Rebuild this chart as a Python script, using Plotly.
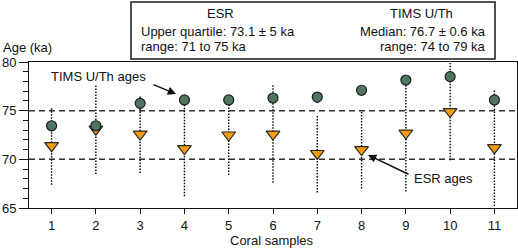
import plotly.graph_objects as go

samples = [1, 2, 3, 4, 5, 6, 7, 8, 9, 10, 11]
tick_labels = ["1", "2", "3", "4", "5", "6", "7", "8", "9", "10", "11"]
esr_age = [71.4, 73.1, 72.6, 71.1, 72.5, 72.6, 70.6, 71.0, 72.7, 74.9, 71.2]
esr_err = [4.0, 4.6, 4.0, 4.9, 4.1, 5.0, 4.0, 4.0, 6.0, 5.0, 6.0]
tims_age = [73.45, 73.45, 75.75, 76.1, 76.1, 76.3, 76.4, 77.1, 78.15, 78.5, 76.1]
tims_err = [0.6, 0.6, 0.6, 0.6, 0.6, 0.6, 0.6, 0.6, 0.6, 0.6, 0.6]
ref_lines = [70, 75]

W, H = 518, 249
ML, MR, MT, MB = 29, 1, 62, 41
PW, PH = W - ML - MR, H - MT - MB


def px(x):
    return (x - ML) / PW


def py(y):
    return (H - MB - y) / PH


FONT = "Liberation Sans, Arial, Helvetica, sans-serif"


def bar_path(xs, vals, errs):
    bx, by = [], []
    for x, v, e in zip(xs, vals, errs):
        bx += [x, x, None]
        by += [v - e, v + e, None]
    return bx, by


fig = go.Figure()

ex, ey = bar_path(samples, esr_age, esr_err)
fig.add_trace(go.Scatter(x=ex, y=ey, mode="lines", showlegend=False, hoverinfo="skip",
                         line=dict(color="#000000", width=1.4, dash="1.5px,1.5px")))
tx, ty = bar_path(samples, tims_age, tims_err)
fig.add_trace(go.Scatter(x=tx, y=ty, mode="lines", showlegend=False, hoverinfo="skip",
                         line=dict(color="#000000", width=1.4, dash="1.5px,1.5px")))

fig.add_trace(go.Scatter(x=samples, y=esr_age, mode="markers", name="ESR ages", showlegend=False,
                         marker=dict(symbol="triangle-down", size=12, color="#f49d0e",
                                     line=dict(color="#2a2a2a", width=1.2))))
fig.add_trace(go.Scatter(x=samples, y=tims_age, mode="markers", name="TIMS U/Th ages", showlegend=False,
                         marker=dict(symbol="circle", size=10, color="#4e7660",
                                     line=dict(color="#1e1e1e", width=1.2))))

shapes = []
for v in ref_lines:
    shapes.append(dict(type="line", xref="paper", yref="y", x0=0, x1=1, y0=v, y1=v, layer="below",
                       line=dict(color="#333333", width=1.5, dash="6px,4px")))
shapes.append(dict(type="rect", xref="paper", yref="paper", x0=px(131), x1=px(495), y0=py(59), y1=py(2),
                   line=dict(color="#1a1a1a", width=1.5), fillcolor="white"))

annotations = [
    dict(text="ESR", x=px(220), y=py(13), xanchor="center"),
    dict(text="Upper quartile: 73.1 ± 5 ka", x=px(139), y=py(31), xanchor="left"),
    dict(text="range: 71 to 75 ka", x=px(139), y=py(46), xanchor="left"),
    dict(text="TIMS U/Th", x=px(421), y=py(13), xanchor="center"),
    dict(text="Median: 76.7 ± 0.6 ka", x=px(488), y=py(31), xanchor="right"),
    dict(text="range: 74 to 79 ka", x=px(488), y=py(46), xanchor="right"),
    dict(text="Age (ka)", x=px(1), y=py(47), xanchor="left"),
    dict(text="Coral samples", x=px(272), y=py(240), xanchor="center"),
    dict(text="TIMS U/Th ages", x=px(98), y=py(76), xanchor="center"),
    dict(text="ESR ages", x=px(412), y=py(178), xanchor="left"),
]
for a in annotations:
    a.update(xref="paper", yref="paper", yanchor="middle", showarrow=False,
             font=dict(family=FONT, size=13, color="#111111"))

arrows = [
    dict(x=px(176), y=py(94), ax=152 - 176, ay=84 - 94),
    dict(x=px(368), y=py(155), ax=410 - 368, ay=175 - 155),
]
for a in arrows:
    a.update(xref="paper", yref="paper", text="", showarrow=True, arrowhead=2,
             arrowsize=1.1, arrowwidth=1.5, arrowcolor="#111111", standoff=0)
annotations += arrows

fig.update_layout(
    width=W, height=H,
    margin=dict(l=ML, r=MR, t=MT, b=MB, pad=0),
    paper_bgcolor="white", plot_bgcolor="white",
    font=dict(family=FONT, size=13, color="#111111"),
    shapes=shapes, annotations=annotations,
    xaxis=dict(range=[0.49, 11.51], tickmode="array", tickvals=samples, ticktext=tick_labels,
               ticks="outside", ticklen=5, tickcolor="#111111", showgrid=False, zeroline=False,
               showline=True, linecolor="#111111", linewidth=1, mirror=True,
               tickfont=dict(size=13)),
    yaxis=dict(range=[65, 80], tickvals=[65, 70, 75, 80], ticks="outside", ticklen=9,
               tickcolor="#111111", showgrid=False, zeroline=False,
               showline=True, linecolor="#111111", linewidth=1, mirror=True,
               minor=dict(dtick=1, ticks="outside", ticklen=5, tickcolor="#111111", showgrid=False),
               tickfont=dict(size=13)),
)

fig.write_html("out.html", config={"displayModeBar": False},
               post_script="document.body.style.margin='0';")
